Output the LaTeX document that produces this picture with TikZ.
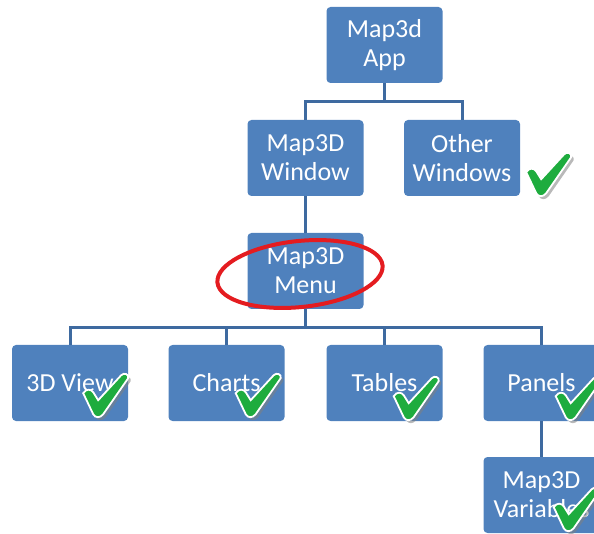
\documentclass[tikz,border=0pt]{standalone}
\usepackage{fontspec}
\setmainfont{Carlito}
\usetikzlibrary{shadows}
\definecolor{boxblue}{RGB}{79,129,189}
\definecolor{lineblue}{RGB}{62,106,160}
\definecolor{tickgreen}{RGB}{30,172,62}
\definecolor{ringred}{RGB}{228,28,32}
\tikzset{
  box/.style={fill=boxblue, rounded corners=4pt, minimum width=116pt, minimum height=76pt,
    text=white, align=center, inner sep=0pt, font=\fontsize{26}{29}\selectfont},
  link/.style={draw=lineblue, line width=3pt},
  okmark/.pic={
    \fill[tickgreen, draw=white, line width=1.8pt,
      drop shadow={shadow xshift=2.5pt, shadow yshift=-3pt, opacity=0.55}]
      (1pt,24pt) .. controls (4pt,29pt) and (9pt,28pt) .. (11pt,25pt) -- (16pt,17pt)
      -- (39pt,42pt) .. controls (42pt,45pt) and (47pt,43pt) .. (46pt,39pt)
      -- (21pt,3pt) .. controls (18pt,-1pt) and (13pt,-1pt) .. (11pt,3pt) -- cycle;
  }
}
\begin{document}
\begin{tikzpicture}
				\clip (0,0) rectangle (594pt,533pt);
				\node[box] (app) at (384.5pt,488pt) {Map3d\\App};
				\node[box] (win) at (305.5pt,375pt) {Map3D\\Window};
				\node[box] (other) at (462pt,375pt) {Other\\Windows};
				\node[box] (menu) at (305.5pt,262pt) {Map3D\\Menu};
				\node[box] (view) at (70pt,150pt) {3D View};
				\node[box] (charts) at (226.5pt,150pt) {Charts};
				\node[box] (tables) at (384.5pt,150pt) {Tables};
				\node[box] (panels) at (541.5pt,150pt) {Panels};
				\node[box] (vars) at (541.5pt,38pt) {Map3D\\Variables};
				\foreach \B in {win,other} \draw[link] (app.south) -- ++(0,-18pt) -| (\B.north);
				\foreach \B in {view,charts,tables,panels} \draw[link] (menu.south) -- ++(0,-18pt) -| (\B.north);
				\draw[link] (win) -- (menu);
				\draw[link] (panels) -- (vars);
				\draw[ringred, line width=4pt, rotate around={6:(300pt,259pt)}] (300pt,259pt) ellipse (83pt and 33pt);
				\coordinate (okOther) at ([shift={(5pt,0pt)}]other.south east);
				\coordinate (okView) at ([shift={(-46pt,4pt)}]view.south east);
				\coordinate (okCharts) at ([shift={(-50pt,4pt)}]charts.south east);
				\coordinate (okTables) at ([shift={(-50pt,1pt)}]tables.south east);
				\coordinate (okPanels) at ([shift={(-45pt,1pt)}]panels.south east);
				\coordinate (okVars) at ([shift={(-47pt,2pt)}]vars.south east);
				\foreach \P in {okOther,okView,okCharts,okTables,okPanels,okVars} \pic at (\P) {okmark};
\end{tikzpicture}
\end{document}
